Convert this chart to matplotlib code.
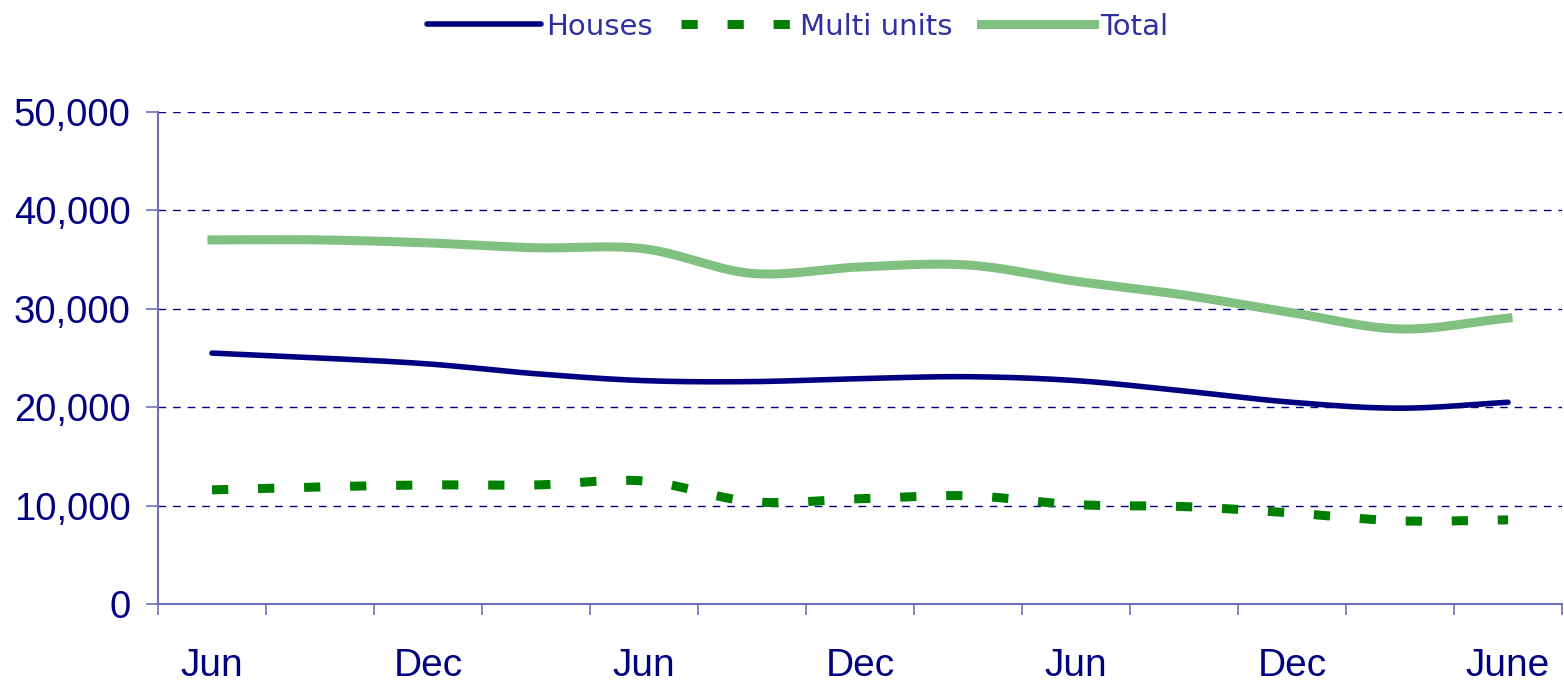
import numpy as np
import matplotlib
matplotlib.use("Agg")
import matplotlib.pyplot as plt
from matplotlib.ticker import FuncFormatter, FixedLocator

# quarterly periods, labelled every other quarter
periods = ["Jun", "Sep", "Dec", "Mar", "Jun", "Sep", "Dec", "Mar",
           "Jun", "Sep", "Dec", "Mar", "June"]
houses = [25500, 25000, 24400, 23400, 22700, 22600, 22900, 23100,
          22700, 21650, 20500, 19900, 20500]
multi = [11600, 11900, 12100, 12100, 12500, 10400, 10700, 11000,
         10100, 9900, 9250, 8450, 8550]
total = [37000, 37000, 36700, 36200, 36100, 33600, 34250, 34450,
         32800, 31400, 29600, 27950, 29050]

navy = "#000080"
axis_col = "#7070b8"


def smooth(y, n=20):
    # catmull-rom curve through the points, like Excel's smoothed line
    x = np.arange(len(y), dtype=float)
    y = np.asarray(y, dtype=float)
    px = np.concatenate([[2 * x[0] - x[1]], x, [2 * x[-1] - x[-2]]])
    py = np.concatenate([[2 * y[0] - y[1]], y, [2 * y[-1] - y[-2]]])
    xs, ys = [], []
    t = np.linspace(0, 1, n, endpoint=False)
    for i in range(1, len(px) - 2):
        for p, out in ((px, xs), (py, ys)):
            p0, p1, p2, p3 = p[i - 1], p[i], p[i + 1], p[i + 2]
            out.extend(0.5 * (2 * p1 + (-p0 + p2) * t
                              + (2 * p0 - 5 * p1 + 4 * p2 - p3) * t ** 2
                              + (-p0 + 3 * p1 - 3 * p2 + p3) * t ** 3))
    xs.append(x[-1])
    ys.append(y[-1])
    return np.array(xs), np.array(ys)


fig = plt.figure(figsize=(15.64, 6.84), dpi=100)
ax = fig.add_axes([158 / 1564, 1 - 604 / 684, 1404 / 1564, 492 / 684])

hx, hy = smooth(houses)
mx, my = smooth(multi)
tx, ty = smooth(total)
ax.plot(hx, hy, color=navy, lw=4, solid_capstyle="round", label="Houses", zorder=4)
ax.plot(mx, my, color="#008000", lw=6.5, dashes=(1.8, 3.3), label="Multi units", zorder=3)
ax.plot(tx, ty, color="#80c080", lw=6.5, label="Total", zorder=2)

ax.set_xlim(-0.5, len(periods) - 0.5)
ax.set_ylim(0, 50000)
ax.set_yticks(range(0, 50001, 10000))
ax.yaxis.set_major_formatter(FuncFormatter(lambda v, p: f"{int(v):,}"))
ax.yaxis.grid(True, color=navy, ls=(0, (5.5, 5)), lw=1)
ax.set_axisbelow(True)

ax.xaxis.set_major_locator(FixedLocator(np.arange(-0.5, len(periods), 1)))
ax.xaxis.set_minor_locator(FixedLocator(np.arange(0, len(periods), 2)))
ax.xaxis.set_major_formatter(FuncFormatter(lambda v, p: ""))
ax.xaxis.set_minor_formatter(FuncFormatter(lambda v, p: periods[int(round(v))]))
ax.tick_params(axis="x", which="minor", length=0, pad=32,
               labelsize=28, labelcolor=navy)
ax.tick_params(axis="x", which="major", length=8, color=axis_col, width=1.2)
ax.tick_params(axis="y", length=8.6, color=axis_col, width=1.2, pad=11,
               labelsize=27.5, labelcolor=navy)
for lab in ax.get_xticklabels(minor=True) + ax.get_yticklabels():
    lab.set_family(["DejaVu Sans Condensed", "Liberation Sans"])

for s in ["top", "right"]:
    ax.spines[s].set_visible(False)
for s in ["left", "bottom"]:
    ax.spines[s].set_color(axis_col)
    ax.spines[s].set_linewidth(1.5)

leg = fig.legend(loc="upper center", bbox_to_anchor=(0.51, 1.02), ncol=3,
                 frameon=False, handlelength=3.9, handletextpad=0.2,
                 columnspacing=0.95,
                 prop={"family": ["Liberation Sans Narrow", "DejaVu Sans Condensed"], "size": 21})
for t in leg.get_texts():
    t.set_color("#3030a0")

fig.savefig("out.png", dpi=100)
